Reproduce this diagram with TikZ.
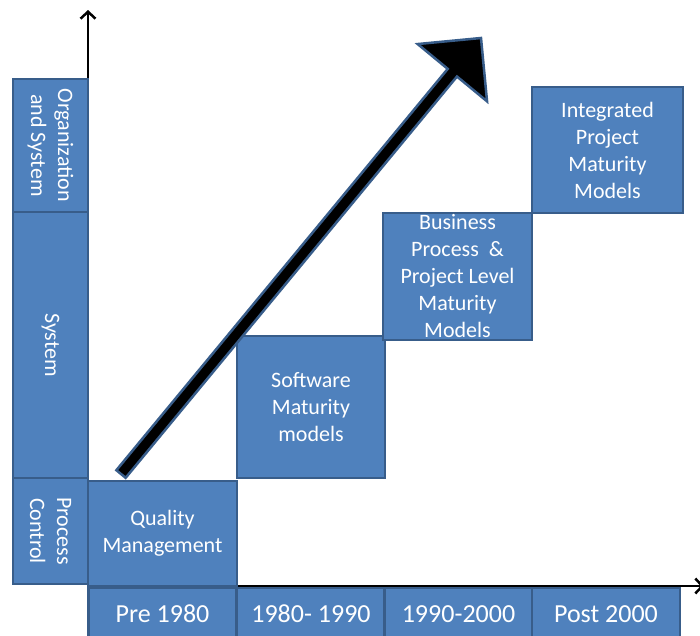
\documentclass[tikz,border=0pt]{standalone}
\usepackage{fontspec}
\setmainfont{Carlito}
\usetikzlibrary{arrows.meta,calc}
\definecolor{boxfill}{HTML}{4F81BD}
\definecolor{boxline}{HTML}{385D8A}
\begin{document}
\begin{tikzpicture}[x=1pt,y=-1pt,
  stage/.style={draw=boxline,fill=boxfill,line width=2.2pt,text=white,align=center,
    inner sep=0pt,font=\fontsize{22}{27}\selectfont},
  level/.style={stage,rotate=-90,minimum height=75pt},
  period/.style={stage,minimum width=148pt,minimum height=52pt,font=\fontsize{26}{30}\selectfont},
  axis/.style={line width=2.5pt,-{Straight Barb[length=7pt,width=15pt]}},
  bigarrow/.style={fill=black,draw=boxline,line width=2.5pt,line join=miter}]
\useasboundingbox (0,0) rectangle (700,635);
% axes
\coordinate (origin) at (88,586);
\coordinate (ytop) at (88,10);
\coordinate (xend) at (704,586);
\draw[axis] (origin) -- (ytop);
\draw[axis] (origin) -- (xend);
% levels
\node[level,minimum width=133pt] (org) at (50.5,145.5) {Organization\\and System};
\node[level,minimum width=266pt] (sys) at (50.5,345) {System};
\node[level,minimum width=106pt] (proc) at (50.5,531) {Process\\Control};
% periods
\node[period] (pre) at (162.5,614) {Pre 1980};
\node[period] (eighties) at (311,614) {1980- 1990};
\node[period] (nineties) at (458.5,614) {1990-2000};
\node[period] (post) at (606,614) {Post 2000};
% stages
\node[stage,minimum width=149pt,minimum height=105pt] (qm) at (162.5,533.5) {Quality\\Management};
\node[stage,minimum width=148pt,minimum height=142pt] (sw) at (311,407) {Software\\Maturity\\models};
\node[stage,minimum width=149pt,minimum height=127pt] (bp) at (457.5,276.5) {Business\\Process \ \&\\Project Level\\Maturity\\Models};
\node[stage,minimum width=151pt,minimum height=126pt] (ip) at (607.5,150) {Integrated\\Project\\Maturity\\Models};
% growth arrow
\coordinate (tail) at (121,474);
\coordinate (tip) at (481,38);
\path ($(tip)!45pt!(tail)$) coordinate (base);
\filldraw[bigarrow] ($(tail)!6pt!90:(tip)$) -- ($(base)!6pt!-90:(tail)$)
  -- ($(base)!45pt!-90:(tail)$) -- (tip) -- ($(base)!45pt!90:(tail)$)
  -- ($(base)!6pt!90:(tail)$) -- ($(tail)!6pt!-90:(tip)$) -- cycle;
\end{tikzpicture}
\end{document}
